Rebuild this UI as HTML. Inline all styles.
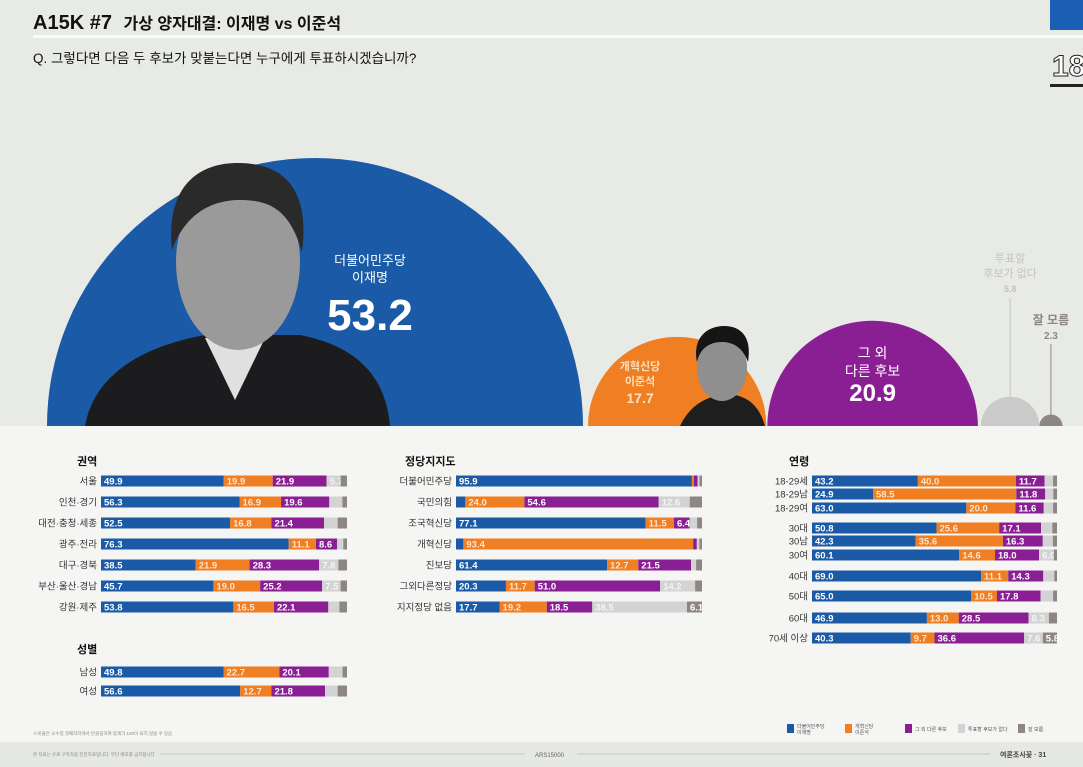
<!DOCTYPE html>
<html><head><meta charset="utf-8">
<style>
html,body{margin:0;padding:0;width:1083px;height:767px;overflow:hidden;background:#f4f5f3}
svg{display:block;font-family:"Liberation Sans","Noto Sans CJK KR",sans-serif}
</style></head>
<body>
<svg id="chart" width="1083" height="767" viewBox="0 0 1083 767">
  <rect x="0" y="0" width="1083" height="426" fill="#e8eae6"/>
  <rect x="0" y="426" width="1083" height="316" fill="#f5f6f4"/>
  <rect x="0" y="742" width="1083" height="25" fill="#e6e8e4"/>
  <text x="33" y="29" font-size="20" font-weight="bold" fill="#111">A15K #7 <tspan font-size="16" dx="6">가상  양자대결: 이재명 vs 이준석</tspan></text>
  <rect x="33" y="35" width="1050" height="3" fill="#fafafa"/>
  <text x="33" y="63" font-size="13.5" fill="#111">Q. 그렇다면 다음 두 후보가 맞붙는다면 누구에게 투표하시겠습니까?</text>
  <rect x="1050" y="0" width="33" height="30" fill="#1a5fb4"/>
  <text x="1052" y="76" font-size="30" font-weight="bold" fill="#fff" stroke="#222" stroke-width="1">18</text>
  <rect x="1050" y="84" width="33" height="3" fill="#222"/>
  <g id="bubbles"></g>
  <g id="bars"></g>
  <g font-size="5" fill="#555">
    <rect x="787" y="724" width="7" height="9" fill="#1a5aa6"/>
    <text x="797" y="728">더불어민주당</text><text x="797" y="734">이재명</text>
    <rect x="845" y="724" width="7" height="9" fill="#f07e22"/>
    <text x="855" y="728">개혁신당</text><text x="855" y="734">이준석</text>
    <rect x="905" y="724" width="7" height="9" fill="#8a1f93"/>
    <text x="915" y="731">그 외 다른 후보</text>
    <rect x="958" y="724" width="7" height="9" fill="#d3d3d3"/>
    <text x="968" y="731">투표할 후보가 없다</text>
    <rect x="1018" y="724" width="7" height="9" fill="#8e8683"/>
    <text x="1028" y="731">잘 모름</text>
  </g>
  <text x="33" y="735" font-size="4.5" fill="#888">※비율은 소수점 첫째자리에서 반올림하여 합계가 100이 되지 않을 수 있음</text>
  <text x="33" y="756" font-size="4.5" fill="#888">본 자료는 유료 구독자용 전문자료입니다. 무단 배포를 금지합니다</text>
  <line x1="160" y1="754" x2="525" y2="754" stroke="#bbb" stroke-width="0.8"/>
  <text x="535" y="757" font-size="6" fill="#666">ARS15000</text>
  <line x1="577" y1="754" x2="990" y2="754" stroke="#bbb" stroke-width="0.8"/>
  <text x="1000" y="757" font-size="7" fill="#444" font-weight="bold">여론조사꽃 · 31</text>
</svg>
<script>
const NS='http://www.w3.org/2000/svg';
const COLORS=['#1a5aa6','#f07e22','#8a1f93','#d3d3d3','#8e8683'];
const totalLabels=['더불어민주당 이재명','개혁신당 이준석','그 외 다른 후보','투표할 후보가 없다','잘 모름'];
const totalValues=[53.2,17.7,20.9,5.8,2.3];

const regionCats=['서울','인천·경기','대전·충청·세종','광주·전라','대구·경북','부산·울산·경남','강원·제주'];
const regionLee=[49.9,56.3,52.5,76.3,38.5,45.7,53.8];
const regionJun=[19.9,16.9,16.8,11.1,21.9,19.0,16.5];
const regionOther=[21.9,19.6,21.4,8.6,28.3,25.2,22.1];
const regionNone=[5.7,5.3,5.5,2.5,7.8,7.5,4.5];
const regionDk=[2.6,1.9,3.8,1.5,3.5,2.6,3.1];

const genderCats=['남성','여성'];
const genderLee=[49.8,56.6];
const genderJun=[22.7,12.7];
const genderOther=[20.1,21.8];
const genderNone=[5.6,5.1];
const genderDk=[1.8,3.8];

const partyCats=['더불어민주당','국민의힘','조국혁신당','개혁신당','진보당','그외다른정당','지지정당 없음'];
const partyLee=[95.9,3.8,77.1,3.0,61.4,20.3,17.7];
const partyJun=[0.8,24.0,11.5,93.4,12.7,11.7,19.2];
const partyOther=[1.5,54.6,6.4,1.5,21.5,51.0,18.5];
const partyNone=[0.8,12.6,3.0,1.0,2.0,14.2,38.5];
const partyDk=[1.0,5.0,2.0,1.1,2.4,2.8,6.1];

const ageCats=['18-29세','18-29남','18-29여','30대','30남','30여','40대','50대','60대','70세 이상'];
const ageLee=[43.2,24.9,63.0,50.8,42.3,60.1,69.0,65.0,46.9,40.3];
const ageJun=[40.0,58.5,20.0,25.6,35.6,14.6,11.1,10.5,13.0,9.7];
const ageOther=[11.7,11.8,11.6,17.1,16.3,18.0,14.3,17.8,28.5,36.6];
const ageNone=[3.5,3.3,3.8,4.6,4.1,6.0,4.5,5.1,8.3,7.6];
const ageDk=[1.6,1.5,1.6,1.9,1.7,1.3,1.1,1.6,3.3,5.8];

function mk(tag,attrs,parent,name){
  const e=document.createElementNS(NS,tag);
  for(const k in attrs)e.setAttribute(k,attrs[k]);
  
  
  parent.appendChild(e);return e;
}
const bub=document.getElementById('bubbles');
const baseY=426;
function rad(v){return 268*(v/totalValues[0]);}
const r=totalValues.map(rad);
const cx=[];
let x0=47;
const gaps=[5,1,3,0,0];
for(let i=0;i<5;i++){cx.push(x0+r[i]);x0+=2*r[i]+gaps[i];}
for(let i=0;i<5;i++){
  const d=`M${cx[i]-r[i]},${baseY} A${r[i]},${r[i]} 0 0 1 ${cx[i]+r[i]},${baseY} Z`;
  mk('path',{d:d,fill:i===3?'#c9cac9':COLORS[i]},bub,'bubble-'+i);
}
const p1=mk('g',{},bub,'portrait-lee-jae-myung');
mk('path',{d:'M85,426 C95,370 150,345 205,335 L300,335 C350,345 385,370 390,426 Z',fill:'#1c1c1e'},p1,'portrait-lee-suit');
mk('path',{d:'M205,338 L235,400 L265,338 Z',fill:'#e0e0e0'},p1,'portrait-lee-shirt');
mk('ellipse',{cx:238,cy:262,rx:62,ry:88,fill:'#9a9a9a'},p1,'portrait-lee-face');
mk('path',{d:'M172,250 C165,180 205,162 240,163 C285,164 310,190 302,252 C290,210 270,200 240,200 C210,200 185,215 172,250 Z',fill:'#2a2a2a'},p1,'portrait-lee-hair');
const p2=mk('g',{},bub,'portrait-lee-jun-seok');
mk('path',{d:'M680,426 C690,405 705,398 720,395 L735,395 C750,398 760,408 765,426 Z',fill:'#1e1e1e'},p2,'portrait-jun-suit');
mk('ellipse',{cx:722,cy:368,rx:25,ry:33,fill:'#8f8f8f'},p2,'portrait-jun-face');
mk('path',{d:'M697,362 C692,335 710,326 724,326 C742,326 752,338 748,362 C742,345 730,342 722,342 C710,342 700,348 697,362 Z',fill:'#151515'},p2,'portrait-jun-hair');
function txt(x,y,s,size,fill,weight,name,parent){
  const t=mk('text',{x:x,y:y,'font-size':size,fill:fill,'font-weight':weight||'normal','text-anchor':'middle'},parent||bub,name);
  t.textContent=s;return t;
}
txt(370,265,'더불어민주당','13','#fff','normal','label-lee-party');
txt(370,282,'이재명','13','#fff','normal','label-lee-name');
txt(370,330,totalValues[0].toFixed(1),'44','#fff','bold','value-lee');
txt(640,370,'개혁신당','11','#fde0c0','bold','label-jun-party');
txt(640,385,'이준석','11','#fde0c0','bold','label-jun-name');
txt(640,403,totalValues[1].toFixed(1),'14','#fde0c0','bold','value-jun');
txt(cx[2],358,'그 외','14','#fff','normal','label-other-1');
txt(cx[2],376,'다른 후보','14','#fff','normal','label-other-2');
txt(cx[2],401,totalValues[2].toFixed(1),'24','#fff','bold','value-other');
txt(cx[3],262,'투표할','11','#c4c4c4','normal','label-none-1');
txt(cx[3],277,'후보가 없다','11','#c4c4c4','normal','label-none-2');
txt(cx[3],292,totalValues[3].toFixed(1),'9','#c4c4c4','bold','value-none');
mk('line',{x1:cx[3],y1:298,x2:cx[3],y2:baseY-r[3],stroke:'#c4c4c4','stroke-width':1},bub,'leader-none');
txt(cx[4],324,'잘 모름','12','#8e8683','bold','label-dk');
txt(cx[4],339,totalValues[4].toFixed(1),'10','#8e8683','bold','value-dk');
mk('line',{x1:cx[4],y1:344,x2:cx[4],y2:baseY-r[4],stroke:'#8e8683','stroke-width':1},bub,'leader-dk');

const bars=document.getElementById('bars');
function group(title,titleX,titleY,cats,series,labelRight,barX,barW,rowsY,key){
  txt(titleX,titleY,title,'11','#111','bold',key+'-title',bars).setAttribute('text-anchor','start');
  cats.forEach((c,i)=>{
    const y=rowsY[i];
    const lt=txt(labelRight,y+3.5,c,'9.5','#333','normal',key+'-label-'+i,bars);
    lt.setAttribute('text-anchor','end');
    const tot=series.reduce((a,s)=>a+s[i],0);
    let x=barX;
    series.forEach((s,k)=>{
      const w=s[i]/tot*barW;
      mk('rect',{x:x,y:y-5.5,width:Math.max(w,0),height:11,fill:COLORS[k]},bars,key+'-bar-'+i+'-'+k);
      if(s[i]>=5 && w>14){
        const t=mk('text',{x:x+3,y:y+3.5,'font-size':'9.5','font-weight':'bold',fill:(k===1||k===3)?'#fbe6d0':'#fff'},bars,key+'-value-'+i+'-'+k);
        if(k===3)t.setAttribute('fill','#f4f4f4');
        t.textContent=s[i].toFixed(1);
      }
      x+=w;
    });
  });
}
const rowsL=[481,502,523,544,565,586,607];
group('권역',77,465,regionCats,[regionLee,regionJun,regionOther,regionNone,regionDk],97,101,246,rowsL,'region');
group('성별',77,653,genderCats,[genderLee,genderJun,genderOther,genderNone,genderDk],97,101,246,[672,691],'gender');
group('정당지지도',405,465,partyCats,[partyLee,partyJun,partyOther,partyNone,partyDk],452,456,246,rowsL,'party');
group('연령',789,465,ageCats,[ageLee,ageJun,ageOther,ageNone,ageDk],808,812,245,[481,494,508,528,541,555,576,596,618,638],'age');
</script>
</body></html>
